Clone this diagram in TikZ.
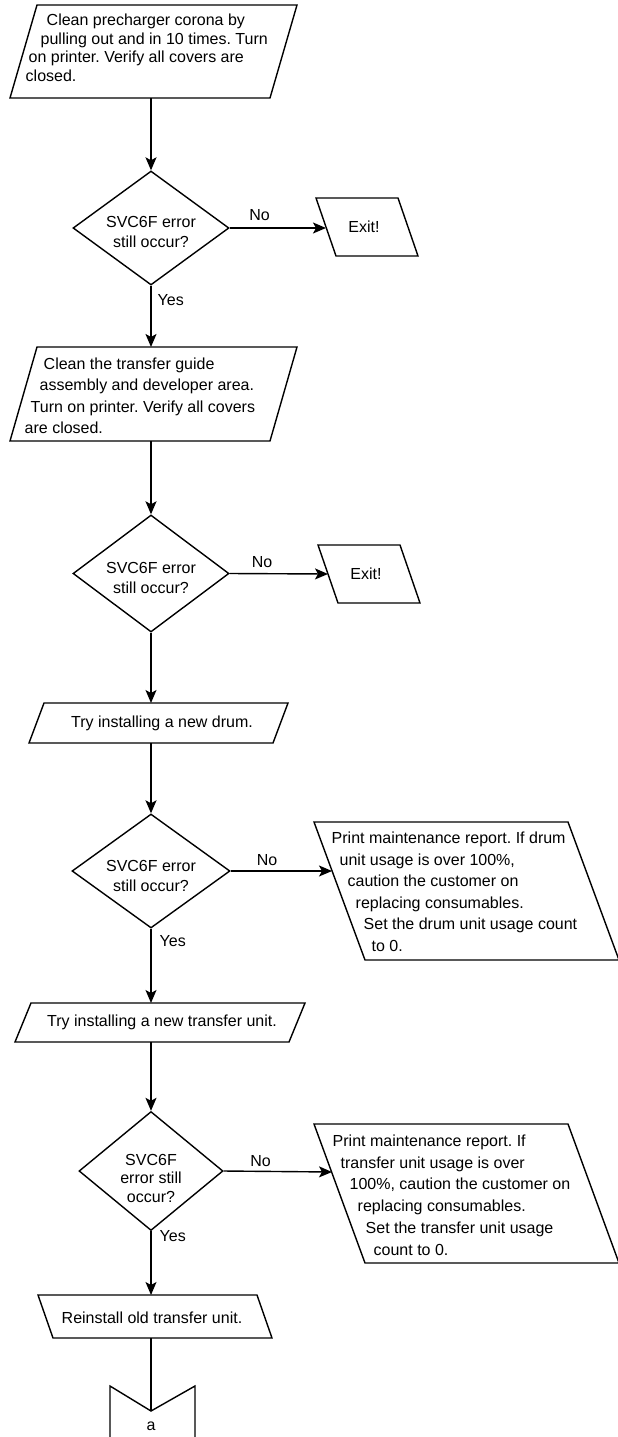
\documentclass[tikz,border=0pt]{standalone}
\usepackage{fontspec}
\setmainfont{Liberation Sans}
\usetikzlibrary{arrows.meta,shapes.geometric}
\frenchspacing
\begin{document}
\begin{tikzpicture}[x=1pt,y=-1pt,line width=1.4pt,
  shp/.style={draw, line join=miter},
  dec/.style={draw, shape=diamond, inner sep=0pt},
  txt/.style={inner sep=0pt, font=\fontsize{16}{20}\selectfont},
  arr/.style={-{Stealth[length=13pt,width=11pt,inset=3pt]}},
  lbl/.style={inner sep=0pt, font=\fontsize{16}{19}\selectfont}]
\useasboundingbox (0,0) rectangle (618,1437);
\fill[white] (0,0) rectangle (618,1437);
\clip (0,0) rectangle (618,1437);

% P1
\draw[shp] (37,5) -- (297,5) -- (270,98) -- (10,98) -- cycle;
\coordinate (p1s) at (151,98);
\node[txt, anchor=west, align=left, font=\fontsize{16}{18.6}\selectfont] (p1) at (25,47.7)
 {\hspace*{21pt}Clean precharger corona by\\\hspace*{15pt}pulling out and in 10 times. Turn\\\hspace*{3pt}on printer. Verify all covers are\\closed.};

% D1
\node[dec, minimum width=156pt, minimum height=114pt] (d1) at (151,228) {};
\node[txt, align=center] (d1t) at (151,232) {SVC6F error\\still occur?};
% E1
\draw[shp] (316,198) -- (398,198) -- (418,256) -- (336,256) -- cycle;
\coordinate (e1w) at (326,228);
\node[txt] (e1) at (364,227) {Exit!};

% P2
\draw[shp] (37,347) -- (297,347) -- (270,441) -- (10,441) -- cycle;
\coordinate (p2n) at (151,347);
\coordinate (p2s) at (151,441);
\node[txt, anchor=west, align=left, font=\fontsize{16}{21.5}\selectfont] (p2) at (24,396)
 {\hspace*{19pt}Clean the transfer guide\\\hspace*{15pt}assembly and developer area.\\\hspace*{6pt}Turn on printer. Verify all covers\\are closed.};

% D2
\node[dec, minimum width=156pt, minimum height=117pt] (d2) at (151,573.5) {};
\node[txt, align=center] (d2t) at (151,577.5) {SVC6F error\\still occur?};
% E2
\draw[shp] (318,545) -- (400,545) -- (420,603) -- (338,603) -- cycle;
\coordinate (e2w) at (328,574);
\node[txt] (e2) at (366,574) {Exit!};

% P3
\draw[shp] (44,703) -- (288,703) -- (273,743) -- (29,743) -- cycle;
\coordinate (p3n) at (151,703);
\coordinate (p3s) at (151,743);
\node[txt] (p3) at (162,723) {Try installing a new drum.};

% D3
\node[dec, minimum width=158pt, minimum height=114pt] (d3) at (151,871) {};
\node[txt, align=center] (d3t) at (151,876) {SVC6F error\\still occur?};
% E3
\draw[shp] (314,822) -- (568,822) -- (619,960) -- (365,960) -- cycle;
\coordinate (e3w) at (332,871);
\node[txt, anchor=west, align=left, font=\fontsize{16}{21.5}\selectfont] (e3) at (331,892)
 {Print maintenance report. If drum\\\hspace*{8pt}unit usage is over 100\%,\\\hspace*{16pt}caution the customer on\\\hspace*{24pt}replacing consumables.\\\hspace*{32pt}Set the drum unit usage count\\\hspace*{40pt}to 0.};

% P4
\draw[shp] (31,1003) -- (305,1003) -- (289,1042) -- (15,1042) -- cycle;
\coordinate (p4n) at (151,1003);
\coordinate (p4s) at (151,1042);
\node[txt] (p4) at (162,1022) {Try installing a new transfer unit.};

% D4
\node[dec, minimum width=144pt, minimum height=119pt] (d4) at (151,1171) {};
\node[txt, align=center, font=\fontsize{16}{18.5}\selectfont] (d4t) at (151,1178) {SVC6F\\error still\\occur?};
% E4
\draw[shp] (314,1124) -- (568,1124) -- (619,1263) -- (365,1263) -- cycle;
\coordinate (e4w) at (332,1172);
\node[txt, anchor=west, align=left, font=\fontsize{16}{21.8}\selectfont] (e4) at (332,1195)
 {Print maintenance report. If\\\hspace*{8pt}transfer unit usage is over\\\hspace*{17pt}100\%, caution the customer on\\\hspace*{25pt}replacing consumables.\\\hspace*{33pt}Set the transfer unit usage\\\hspace*{41pt}count to 0.};

% P5
\draw[shp] (38,1295) -- (257,1295) -- (272,1338) -- (53,1338) -- cycle;
\coordinate (p5n) at (151,1295);
\coordinate (p5s) at (151,1338);
\node[txt] (p5) at (152,1318) {Reinstall old transfer unit.};

% off-page connector
\draw[shp] (110,1386) -- (151,1411) coordinate (an) -- (195,1386) -- (195,1470) -- (110,1470) -- cycle;
\node[txt] (a) at (151,1426) {a};

% connectors
\draw[arr] (p1s) -- (d1.north);
\draw[arr] (d1.east) -- node[lbl, pos=0.31, anchor=south, yshift=7pt]{No} (e1w);
\draw[arr] (d1.south) -- node[lbl, pos=0.24, anchor=west, xshift=6pt]{Yes} (p2n);
\draw[arr] (p2s) -- (d2.north);
\draw[arr] (d2.east) -- node[lbl, pos=0.33, anchor=south, yshift=5pt]{No} (e2w);
\draw[arr] (d2.south) -- (p3n);
\draw[arr] (p3s) -- (d3.north);
\draw[arr] (d3.east) -- node[lbl, pos=0.36, anchor=south, yshift=5pt]{No} (e3w);
\draw[arr] (d3.south) -- node[lbl, pos=0.16, anchor=west, xshift=8pt]{Yes} (p4n);
\draw[arr] (p4s) -- (d4.north);
\draw[arr] (d4.east) -- node[lbl, pos=0.34, anchor=south, yshift=4pt]{No} (e4w);
\draw[arr] (d4.south) -- node[lbl, pos=0.08, anchor=west, xshift=8pt]{Yes} (p5n);
\draw (p5s) -- (an);
\end{tikzpicture}
\end{document}
